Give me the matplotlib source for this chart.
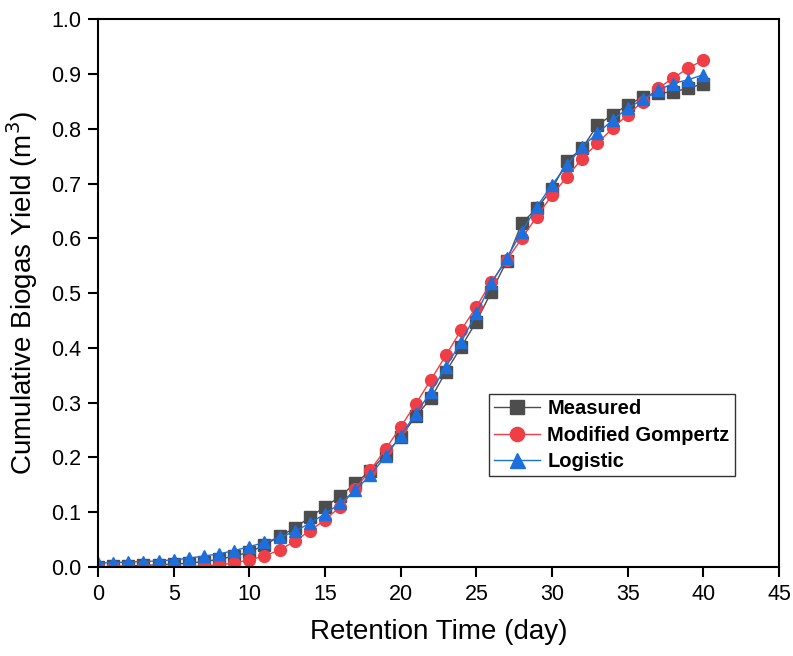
import numpy as np
import matplotlib.pyplot as plt

# retention time (day)
days = list(range(0, 41))

measured = [0.0, 0.001, 0.002, 0.003, 0.004, 0.005, 0.007, 0.010, 0.014, 0.020,
            0.027, 0.040, 0.056, 0.071, 0.091, 0.110, 0.129, 0.153, 0.176, 0.205,
            0.238, 0.275, 0.308, 0.357, 0.402, 0.448, 0.503, 0.558, 0.628, 0.655,
            0.690, 0.742, 0.765, 0.807, 0.826, 0.844, 0.858, 0.865, 0.868, 0.874,
            0.883]

gompertz = [0.0, 0.0, 0.0, 0.0, 0.0, 0.0, 0.001, 0.002, 0.004, 0.007,
            0.013, 0.020, 0.031, 0.047, 0.066, 0.086, 0.110, 0.143, 0.177, 0.215,
            0.256, 0.298, 0.342, 0.387, 0.433, 0.475, 0.521, 0.560, 0.600, 0.640,
            0.679, 0.713, 0.746, 0.774, 0.801, 0.826, 0.850, 0.874, 0.893, 0.911,
            0.926]

logistic = [0.007, 0.008, 0.009, 0.010, 0.011, 0.013, 0.016, 0.020, 0.024, 0.030,
            0.037, 0.045, 0.054, 0.065, 0.080, 0.097, 0.116, 0.140, 0.168, 0.202,
            0.240, 0.280, 0.320, 0.366, 0.411, 0.463, 0.518, 0.564, 0.612, 0.658,
            0.698, 0.734, 0.768, 0.792, 0.816, 0.838, 0.854, 0.871, 0.883, 0.890,
            0.899]

plt.rcParams['font.family'] = ['Liberation Sans', 'DejaVu Sans']

fig = plt.figure(figsize=(7.93, 6.56), dpi=100)
ax = fig.add_axes([0.1236, 0.1357, 0.8587, 0.8346])

ax.plot(days, measured, color='#4d4d4d', lw=1, marker='s', ms=8, label='Measured')
ax.plot(days, gompertz, color='#ef3e45', lw=1, marker='o', ms=8.5, label='Modified Gompertz')
ax.plot(days, logistic, color='#1c6fdc', lw=1, marker='^', ms=9, label='Logistic')

ax.set_xlim(0, 45)
ax.set_ylim(0, 1.0)
ax.set_xticks(np.arange(0, 46, 5))
ax.set_yticks(np.arange(0, 1.01, 0.1))
ax.set_yticklabels(['%.1f' % v for v in np.arange(0, 1.01, 0.1)])

ax.tick_params(direction='out', length=7, width=1.5, labelsize=15.5, pad=5)
for s in ax.spines.values():
    s.set_linewidth(1.5)

ax.set_xlabel('Retention Time (day)', fontsize=20, labelpad=10)
ax.set_ylabel('Cumulative Biogas Yield (m$^3$)', fontsize=20, labelpad=8)

leg = ax.legend(loc='upper left', bbox_to_anchor=(0.574, 0.316), prop={'weight': 'bold', 'size': 14.5},
                frameon=True, fancybox=False, framealpha=1, edgecolor='#333333',
                handlelength=2.3, handletextpad=0.35, labelspacing=0.38, borderpad=0.25,
                borderaxespad=0, markerscale=1.2)
leg.get_frame().set_linewidth(1)

fig.savefig('out.png', dpi=100)
